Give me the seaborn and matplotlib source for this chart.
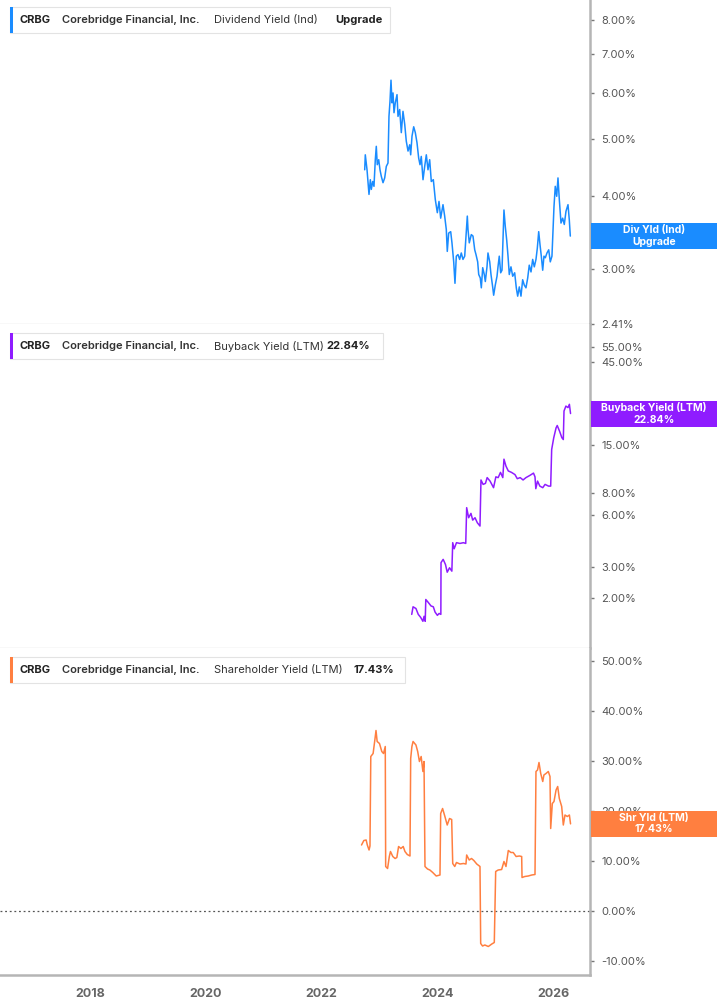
import matplotlib
matplotlib.use('Agg')
import matplotlib.pyplot as plt
import seaborn as sns
from matplotlib.patches import Rectangle
from matplotlib.ticker import FixedLocator, FuncFormatter, NullLocator

sns.set_style('white')
plt.rcParams['font.family'] = ['Inter', 'DejaVu Sans']

# ---------------- data ----------------
ticker = "CRBG"
company = "Corebridge Financial, Inc."

div_years = [2022.745, 2022.755, 2022.785, 2022.819, 2022.842, 2022.859, 2022.883, 2022.905, 2022.928, 2022.945,
             2022.962, 2022.987, 2023.009, 2023.031, 2023.061, 2023.090, 2023.118, 2023.147, 2023.164, 2023.182,
             2023.199, 2023.216, 2023.234, 2023.251, 2023.273, 2023.303, 2023.320, 2023.349, 2023.377, 2023.406,
             2023.436, 2023.463, 2023.493, 2023.522, 2023.539, 2023.562, 2023.591, 2023.619, 2023.648, 2023.677,
             2023.700, 2023.722, 2023.752, 2023.781, 2023.809, 2023.838, 2023.867, 2023.895, 2023.930, 2023.964,
             2023.999, 2024.028, 2024.057, 2024.097, 2024.126, 2024.154, 2024.171, 2024.195, 2024.230, 2024.252,
             2024.282, 2024.304, 2024.327, 2024.356, 2024.385, 2024.413, 2024.442, 2024.472, 2024.517, 2024.529,
             2024.551, 2024.586, 2024.615, 2024.645, 2024.667, 2024.696, 2024.714, 2024.741, 2024.759, 2024.783,
             2024.810, 2024.828, 2024.857, 2024.874, 2024.904, 2024.926, 2024.955, 2024.972, 2025.000, 2025.030,
             2025.047, 2025.069, 2025.093, 2025.116, 2025.133, 2025.150, 2025.173, 2025.197, 2025.220, 2025.242,
             2025.271, 2025.301, 2025.335, 2025.363, 2025.387, 2025.415, 2025.444, 2025.473, 2025.501, 2025.530,
             2025.560, 2025.587, 2025.617, 2025.646, 2025.674, 2025.703, 2025.726, 2025.750, 2025.772, 2025.795,
             2025.819, 2025.841, 2025.864, 2025.893, 2025.923, 2025.950, 2025.979, 2025.997, 2026.014, 2026.036,
             2026.061, 2026.083, 2026.106, 2026.135, 2026.164, 2026.192, 2026.221, 2026.256, 2026.278, 2026.296]
div_yield = [4.43, 4.70, 4.43, 4.02, 4.26, 4.10, 4.23, 4.15, 4.61, 4.86,
             4.52, 4.61, 4.43, 4.32, 4.21, 4.29, 4.49, 4.55, 5.47, 5.81,
             6.31, 5.77, 6.00, 5.55, 5.77, 5.96, 5.47, 5.62, 5.13, 5.58,
             5.30, 4.96, 4.77, 4.89, 4.70, 5.06, 5.25, 5.13, 4.93, 4.64,
             4.52, 4.67, 4.26, 4.49, 4.70, 4.43, 4.61, 4.23, 4.26, 3.94,
             3.74, 3.91, 3.66, 3.86, 3.69, 3.50, 3.21, 3.45, 3.47, 3.32,
             3.08, 2.83, 3.15, 3.17, 3.11, 3.19, 3.11, 3.15, 3.69, 3.50,
             3.32, 3.43, 3.41, 3.23, 3.17, 3.08, 2.93, 2.89, 2.78, 3.01,
             2.93, 2.85, 3.02, 3.19, 3.08, 2.93, 2.79, 2.70, 2.81, 2.91,
             3.02, 3.15, 2.95, 2.98, 3.38, 3.78, 3.54, 3.36, 3.15, 2.93,
             3.02, 2.91, 2.95, 2.78, 2.69, 2.79, 2.69, 2.87, 2.81, 2.78,
             2.89, 3.04, 2.96, 3.11, 3.02, 3.11, 3.25, 3.47, 3.30, 3.15,
             2.98, 3.15, 3.13, 3.19, 3.23, 3.08, 3.15, 3.50, 3.83, 4.15,
             3.99, 4.29, 3.94, 3.59, 3.66, 3.57, 3.76, 3.86, 3.64, 3.41]

bb_years = [2023.557, 2023.58, 2023.63, 2023.67, 2023.71, 2023.75, 2023.77, 2023.79, 2023.80, 2023.84,
            2023.89, 2023.93, 2023.96, 2024.00, 2024.03, 2024.06, 2024.063, 2024.10, 2024.14, 2024.17,
            2024.21, 2024.25, 2024.265, 2024.29, 2024.33, 2024.39, 2024.45, 2024.49, 2024.506, 2024.54,
            2024.58, 2024.61, 2024.65, 2024.69, 2024.736, 2024.753, 2024.79, 2024.83, 2024.86, 2024.91,
            2024.97, 2025.01, 2025.05, 2025.09, 2025.13, 2025.15, 2025.185, 2025.225, 2025.28, 2025.34,
            2025.38, 2025.43, 2025.48, 2025.53, 2025.60, 2025.66, 2025.686, 2025.70, 2025.73, 2025.77,
            2025.82, 2025.86, 2025.92, 2025.957, 2025.974, 2026.01, 2026.05, 2026.07, 2026.11, 2026.15,
            2026.175, 2026.187, 2026.22, 2026.256, 2026.28, 2026.30]
bb_yield = [1.61, 1.78, 1.74, 1.61, 1.55, 1.47, 1.57, 1.47, 1.96, 1.89,
            1.80, 1.78, 1.66, 1.59, 1.63, 1.61, 3.19, 3.33, 3.11, 2.81,
            2.98, 2.85, 4.15, 3.83, 4.15, 4.11, 4.15, 4.11, 6.59, 5.77,
            6.11, 5.59, 5.77, 5.40, 5.17, 9.50, 8.96, 9.08, 9.80, 9.36,
            8.58, 9.90, 9.80, 10.5, 9.80, 12.5, 11.4, 10.7, 10.5, 10.2,
            9.66, 9.80, 9.50, 9.80, 10.1, 10.4, 9.90, 8.47, 9.36, 8.76,
            8.58, 8.96, 8.76, 8.76, 14.2, 16.6, 18.9, 19.5, 18.1, 16.6,
            16.2, 23.6, 25.2, 24.7, 25.8, 22.84]

sh_years = [2022.69, 2022.73, 2022.77, 2022.79, 2022.82, 2022.836, 2022.85, 2022.87, 2022.89, 2022.92,
            2022.94, 2022.96, 2023.00, 2023.04, 2023.07, 2023.10, 2023.107, 2023.14, 2023.17, 2023.19,
            2023.23, 2023.27, 2023.30, 2023.33, 2023.37, 2023.41, 2023.44, 2023.48, 2023.527, 2023.539,
            2023.56, 2023.58, 2023.63, 2023.66, 2023.69, 2023.72, 2023.75, 2023.769, 2023.786, 2023.83,
            2023.87, 2023.92, 2023.98, 2024.045, 2024.057, 2024.09, 2024.13, 2024.17, 2024.21, 2024.247,
            2024.265, 2024.30, 2024.33, 2024.39, 2024.45, 2024.494, 2024.506, 2024.55, 2024.59, 2024.63,
            2024.68, 2024.736, 2024.748, 2024.78, 2024.82, 2024.88, 2024.94, 2024.983, 2025.007, 2025.05,
            2025.11, 2025.15, 2025.185, 2025.225, 2025.27, 2025.31, 2025.36, 2025.415, 2025.456, 2025.462,
            2025.51, 2025.57, 2025.63, 2025.686, 2025.703, 2025.73, 2025.755, 2025.785, 2025.82, 2025.84,
            2025.876, 2025.916, 2025.945, 2025.957, 2025.985, 2026.014, 2026.05, 2026.078, 2026.106, 2026.147,
            2026.175, 2026.204, 2026.244, 2026.28, 2026.30]
sh_yield = [13.2, 14.1, 14.2, 13.2, 12.2, 13.0, 30.9, 31.2, 31.5, 34.2,
            36.1, 33.9, 33.5, 31.9, 31.5, 32.9, 8.9, 8.5, 10.9, 11.9,
            10.9, 10.5, 10.7, 12.9, 12.5, 12.9, 11.9, 11.3, 11.0, 30.5,
            32.9, 33.9, 33.2, 31.9, 29.9, 30.9, 27.9, 29.9, 8.9, 8.4,
            8.2, 7.7, 7.0, 7.2, 19.5, 20.5, 18.9, 17.2, 18.5, 18.3,
            9.5, 8.9, 9.7, 9.4, 9.5, 9.4, 11.2, 10.2, 10.5, 10.1,
            9.4, 8.9, -6.5, -7.0, -6.8, -7.1, -6.6, -6.3, 7.9, 8.2,
            8.3, 9.9, 8.9, 12.1, 11.7, 11.7, 10.9, 11.0, 10.9, 6.7,
            6.9, 7.0, 7.2, 7.3, 27.9, 28.2, 29.7, 27.5, 25.9, 27.2,
            27.5, 27.9, 26.9, 16.5, 21.5, 21.9, 24.2, 24.9, 22.5, 20.9,
            17.2, 19.2, 18.9, 19.2, 17.43]

div_ticks = [2.41, 3, 4, 5, 6, 7, 8]
bb_ticks = [2, 3, 6, 8, 15, 45, 55]
sh_ticks = [-10, 0, 10, 20, 30, 40, 50]
year_ticks = [2018, 2020, 2022, 2024, 2026]

# ---------------- layout ----------------
W, H = 717, 1005
fig = plt.figure(figsize=(W / 100, H / 100), dpi=100)
fig.patch.set_facecolor('white')


def fx(px):
    return px / W


def fy(py):
    return 1 - py / H


AX_R = 590
XMIN, XMAX = 2016.446, 2026.636
ax1 = fig.add_axes([0, fy(324), fx(AX_R), 324 / H])
ax2 = fig.add_axes([0, fy(648), fx(AX_R), 324 / H])
ax3 = fig.add_axes([0, fy(975), fx(AX_R), 327 / H])

C_DIV = '#1a8cff'
C_BB = '#8f1cff'
C_SH = '#ff7f40'

sns.lineplot(x=div_years, y=div_yield, ax=ax1, color=C_DIV, linewidth=1.1)
sns.lineplot(x=bb_years, y=bb_yield, ax=ax2, color=C_BB, linewidth=1.1)
sns.lineplot(x=sh_years, y=sh_yield, ax=ax3, color=C_SH, linewidth=1.1)

ax3.axhline(0, color='#555555', lw=0.9, ls=(0, (1.5, 2.2)), zorder=1)

pct = FuncFormatter(lambda v, p: f"{v:.2f}%")

ax1.set_yscale('log')
ax2.set_yscale('log')
ax1.set_ylim(2.41, 8.66)
ax2.set_ylim(1.033, 74.5)
ax3.set_ylim(-12.8, 52.6)

for ax, ticks in ((ax1, div_ticks), (ax2, bb_ticks), (ax3, sh_ticks)):
    ax.set_xlim(XMIN, XMAX)
    ax.set_facecolor('white')
    ax.yaxis.tick_right()
    ax.yaxis.set_major_locator(FixedLocator(ticks))
    ax.yaxis.set_minor_locator(NullLocator())
    ax.yaxis.set_major_formatter(pct)
    ax.yaxis.set_minor_formatter(FuncFormatter(lambda v, p: ""))
    ax.tick_params(axis='y', which='major', direction='out', length=3, width=1,
                   color='#777777', labelsize=8, labelcolor='#555555', pad=5)
    ax.set_xlabel('')
    ax.set_ylabel('')
    for s in ('top', 'left'):
        ax.spines[s].set_visible(False)
    ax.spines['right'].set_color('#b5b5b5')
    ax.spines['right'].set_linewidth(1.8)
    ax.grid(False)

for ax in (ax1, ax2):
    ax.tick_params(axis='x', bottom=False, labelbottom=False)
    ax.spines['bottom'].set_color('#cccccc')
    ax.spines['bottom'].set_linewidth(0.9)

ax3.spines['bottom'].set_color('#b5b5b5')
ax3.spines['bottom'].set_linewidth(1.8)
ax3.set_xticks(year_ticks)
ax3.set_xticklabels([str(y) for y in year_ticks])
ax3.tick_params(axis='x', direction='out', length=4, width=1, color='#999999',
                labelsize=9, labelcolor='#666666', pad=5)
for lab in ax3.get_xticklabels():
    lab.set_fontweight('bold')


# ---------------- value boxes on the right ----------------
def value_box(ax, yval, color, text):
    _, ydisp = ax.transData.transform((XMAX, yval))
    yfig = fig.transFigure.inverted().transform((0, ydisp))[1]
    h = 26 / H
    fig.add_artist(Rectangle((fx(591), yfig - h / 2), 1 - fx(591), h,
                             transform=fig.transFigure, fc=color, ec='none', zorder=10))
    fig.text(fx(654), yfig, text, ha='center', va='center', color='white',
             fontsize=7.5, fontweight='bold', linespacing=1.15, zorder=11)


value_box(ax1, div_yield[-1], C_DIV, "Div Yld (Ind)\nUpgrade")
value_box(ax2, bb_yield[-1], C_BB, f"Buyback Yield (LTM)\n{bb_yield[-1]:.2f}%")
value_box(ax3, sh_yield[-1], C_SH, f"Shr Yld (LTM)\n{sh_yield[-1]:.2f}%")


# ---------------- legend boxes ----------------
def legend_box(top, right, color, series, value, value_x):
    h = 26
    fig.add_artist(Rectangle((fx(10), fy(top + h)), fx(right - 10), h / H,
                             transform=fig.transFigure, fc='white', ec='#e3e3e3',
                             lw=0.8, zorder=10))
    fig.add_artist(Rectangle((fx(10), fy(top + h)), fx(3), h / H,
                             transform=fig.transFigure, fc=color, ec='none', zorder=11))
    yc = fy(top + h / 2)
    fig.text(fx(20), yc, ticker, ha='left', va='center', fontsize=8,
             fontweight='bold', color='#222222', zorder=12)
    fig.text(fx(62), yc, company, ha='left', va='center', fontsize=8,
             fontweight='semibold', color='#333333', zorder=12)
    fig.text(fx(214), yc, series, ha='left', va='center', fontsize=8,
             fontweight='normal', color='#333333', zorder=12)
    fig.text(fx(value_x), yc, value, ha='left', va='center', fontsize=8,
             fontweight='bold', color='#222222', zorder=12)


legend_box(7, 390, C_DIV, "Dividend Yield (Ind)", "Upgrade", 335)
legend_box(333, 383, C_BB, "Buyback Yield (LTM)", f"{bb_yield[-1]:.2f}%", 326)
legend_box(657, 405, C_SH, "Shareholder Yield (LTM)", f"{sh_yield[-1]:.2f}%", 354)

fig.savefig('out.png', dpi=100, facecolor='white')
